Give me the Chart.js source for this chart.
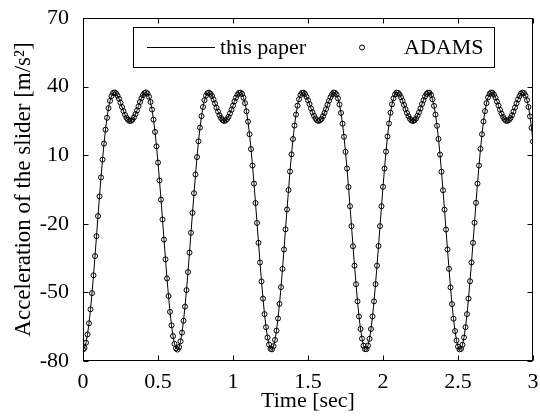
<!DOCTYPE html>
<html>
<head>
<meta charset="utf-8">
<script src="https://cdn.jsdelivr.net/npm/chart.js@4.4.1/dist/chart.umd.min.js"></script>
<style>
  body { margin: 0; background: #fff; }
  canvas { display: block; }
</style>
</head>
<body>
<canvas id="accelChart" width="540" height="416"></canvas>
<script>
// time samples [sec]
const timeSec = [
  0.00,0.01,0.02,0.03,0.04,0.05,0.06,0.07,0.08,0.09,0.10,0.11,0.12,0.13,0.14,0.15,0.16,0.17,0.18,0.19,
  0.20,0.21,0.22,0.23,0.24,0.25,0.26,0.27,0.28,0.29,0.30,0.31,0.32,0.33,0.34,0.35,0.36,0.37,0.38,0.39,
  0.40,0.41,0.42,0.43,0.44,0.45,0.46,0.47,0.48,0.49,0.50,0.51,0.52,0.53,0.54,0.55,0.56,0.57,0.58,0.59,
  0.60,0.61,0.62,0.63,0.64,0.65,0.66,0.67,0.68,0.69,0.70,0.71,0.72,0.73,0.74,0.75,0.76,0.77,0.78,0.79,
  0.80,0.81,0.82,0.83,0.84,0.85,0.86,0.87,0.88,0.89,0.90,0.91,0.92,0.93,0.94,0.95,0.96,0.97,0.98,0.99,
  1.00,1.01,1.02,1.03,1.04,1.05,1.06,1.07,1.08,1.09,1.10,1.11,1.12,1.13,1.14,1.15,1.16,1.17,1.18,1.19,
  1.20,1.21,1.22,1.23,1.24,1.25,1.26,1.27,1.28,1.29,1.30,1.31,1.32,1.33,1.34,1.35,1.36,1.37,1.38,1.39,
  1.40,1.41,1.42,1.43,1.44,1.45,1.46,1.47,1.48,1.49,1.50,1.51,1.52,1.53,1.54,1.55,1.56,1.57,1.58,1.59,
  1.60,1.61,1.62,1.63,1.64,1.65,1.66,1.67,1.68,1.69,1.70,1.71,1.72,1.73,1.74,1.75,1.76,1.77,1.78,1.79,
  1.80,1.81,1.82,1.83,1.84,1.85,1.86,1.87,1.88,1.89,1.90,1.91,1.92,1.93,1.94,1.95,1.96,1.97,1.98,1.99,
  2.00,2.01,2.02,2.03,2.04,2.05,2.06,2.07,2.08,2.09,2.10,2.11,2.12,2.13,2.14,2.15,2.16,2.17,2.18,2.19,
  2.20,2.21,2.22,2.23,2.24,2.25,2.26,2.27,2.28,2.29,2.30,2.31,2.32,2.33,2.34,2.35,2.36,2.37,2.38,2.39,
  2.40,2.41,2.42,2.43,2.44,2.45,2.46,2.47,2.48,2.49,2.50,2.51,2.52,2.53,2.54,2.55,2.56,2.57,2.58,2.59,
  2.60,2.61,2.62,2.63,2.64,2.65,2.66,2.67,2.68,2.69,2.70,2.71,2.72,2.73,2.74,2.75,2.76,2.77,2.78,2.79,
  2.80,2.81,2.82,2.83,2.84,2.85,2.86,2.87,2.88,2.89,2.90,2.91,2.92,2.93,2.94,2.95,2.96,2.97,2.98,2.99,
  3.00
];

// slider acceleration [m/s^2], "this paper"
const accelPaper = [
  -75.0,-74.3,-72.0,-68.4,-63.5,-57.4,-50.3,-42.5,-34.1,-25.4,-16.6,-8.0,0.3,8.1,15.1,21.2,26.4,30.6,33.8,35.9,
  37.2,37.5,37.1,36.1,34.7,33.0,31.1,29.3,27.7,26.4,25.5,25.0,25.1,25.6,26.6,28.0,29.6,31.4,33.3,35.0,
  36.3,37.2,37.5,37.0,35.6,33.3,30.0,25.6,20.2,13.9,6.8,-1.0,-9.4,-18.1,-26.9,-35.5,-43.9,-51.6,-58.5,-64.4,
  -69.1,-72.5,-74.5,
  -75.0,-73.9,-71.4,-67.6,-62.4,-56.2,-49.0,-41.1,-32.6,-23.9,-15.2,-6.6,1.6,9.2,16.1,22.1,27.1,31.1,34.1,36.1,
  37.2,37.4,36.9,35.9,34.4,32.7,30.8,29.1,27.5,26.3,25.4,25.0,25.2,25.8,26.8,28.3,29.9,31.7,33.6,35.2,
  36.5,37.3,37.4,36.8,35.2,32.8,29.2,24.7,19.2,12.7,5.5,-2.4,-10.9,-19.6,-28.3,-36.9,-45.2,-52.7,-59.5,-65.2,
  -69.7,-72.8,-74.7,
  -74.9,-73.5,-70.8,-66.7,-61.4,-55.0,-47.7,-39.7,-31.2,-22.4,-13.7,-5.2,2.9,10.4,17.1,23.0,27.8,31.7,34.5,36.4,
  37.3,37.4,36.8,35.6,34.1,32.4,30.5,28.8,27.3,26.1,25.3,25.0,25.3,25.9,27.1,28.5,30.2,32.1,33.8,35.4,
  36.6,37.4,37.3,36.6,34.9,32.2,28.5,23.8,18.1,11.5,4.2,-3.9,-12.3,-21.0,-29.8,-38.3,-46.4,-53.9,-60.5,-66.0,
  -70.2,-73.3,-74.8,
  -74.8,-73.2,-70.3,-66.0,-60.5,-53.9,-46.4,-38.3,-29.7,-21.0,-12.3,-3.8,4.2,11.6,18.2,23.9,28.6,32.3,34.9,36.6,
  37.4,37.3,36.6,35.4,33.8,32.0,30.2,28.5,27.1,25.9,25.2,25.0,25.3,26.1,27.3,28.8,30.5,32.4,34.1,35.7,
  36.8,37.4,37.3,36.4,34.5,31.6,27.8,22.9,17.1,10.3,2.8,-5.3,-13.8,-22.5,-31.2,-39.7,-47.8,-55.1,-61.5,-66.9,
  -71.0,-73.7,-74.9,
  -74.7,-72.9,-69.7,-65.2,-59.5,-52.7,-45.1,-36.9,-28.3,-19.5,-10.8,-2.4,5.5,12.8,19.2,24.8,29.3,32.8,35.3,36.8,
  37.4,37.3,36.5,35.2,33.5,31.7,29.9,28.2,26.8,25.8,25.1,25.1,25.4,26.3,27.5,29.1,30.9,32.7,34.4,35.9,
  37.0,37.4,37.2,36.1,34.1,31.1,27.0,22.0,16.0
];

// slider acceleration [m/s^2], ADAMS
const accelAdams = [
  -75.0,-74.3,-72.0,-68.4,-63.5,-57.4,-50.3,-42.5,-34.1,-25.4,-16.6,-8.0,0.3,8.1,15.1,21.2,26.4,30.6,33.8,35.9,
  37.2,37.5,37.1,36.1,34.7,33.0,31.1,29.3,27.7,26.4,25.5,25.0,25.1,25.6,26.6,28.0,29.6,31.4,33.3,35.0,
  36.3,37.2,37.5,37.0,35.6,33.3,30.0,25.6,20.2,13.9,6.8,-1.0,-9.4,-18.1,-26.9,-35.5,-43.9,-51.6,-58.5,-64.4,
  -69.1,-72.5,-74.5,
  -75.0,-73.9,-71.4,-67.6,-62.4,-56.2,-49.0,-41.1,-32.6,-23.9,-15.2,-6.6,1.6,9.2,16.1,22.1,27.1,31.1,34.1,36.1,
  37.2,37.4,36.9,35.9,34.4,32.7,30.8,29.1,27.5,26.3,25.4,25.0,25.2,25.8,26.8,28.3,29.9,31.7,33.6,35.2,
  36.5,37.3,37.4,36.8,35.2,32.8,29.2,24.7,19.2,12.7,5.5,-2.4,-10.9,-19.6,-28.3,-36.9,-45.2,-52.7,-59.5,-65.2,
  -69.7,-72.8,-74.7,
  -74.9,-73.5,-70.8,-66.7,-61.4,-55.0,-47.7,-39.7,-31.2,-22.4,-13.7,-5.2,2.9,10.4,17.1,23.0,27.8,31.7,34.5,36.4,
  37.3,37.4,36.8,35.6,34.1,32.4,30.5,28.8,27.3,26.1,25.3,25.0,25.3,25.9,27.1,28.5,30.2,32.1,33.8,35.4,
  36.6,37.4,37.3,36.6,34.9,32.2,28.5,23.8,18.1,11.5,4.2,-3.9,-12.3,-21.0,-29.8,-38.3,-46.4,-53.9,-60.5,-66.0,
  -70.2,-73.3,-74.8,
  -74.8,-73.2,-70.3,-66.0,-60.5,-53.9,-46.4,-38.3,-29.7,-21.0,-12.3,-3.8,4.2,11.6,18.2,23.9,28.6,32.3,34.9,36.6,
  37.4,37.3,36.6,35.4,33.8,32.0,30.2,28.5,27.1,25.9,25.2,25.0,25.3,26.1,27.3,28.8,30.5,32.4,34.1,35.7,
  36.8,37.4,37.3,36.4,34.5,31.6,27.8,22.9,17.1,10.3,2.8,-5.3,-13.8,-22.5,-31.2,-39.7,-47.8,-55.1,-61.5,-66.9,
  -71.0,-73.7,-74.9,
  -74.7,-72.9,-69.7,-65.2,-59.5,-52.7,-45.1,-36.9,-28.3,-19.5,-10.8,-2.4,5.5,12.8,19.2,24.8,29.3,32.8,35.3,36.8,
  37.4,37.3,36.5,35.2,33.5,31.7,29.9,28.2,26.8,25.8,25.1,25.1,25.4,26.3,27.5,29.1,30.9,32.7,34.4,35.9,
  37.0,37.4,37.2,36.1,34.1,31.1,27.0,22.0,16.0
];

const seriesLabels = ['this paper', 'ADAMS'];
const xTicks = [0, 0.5, 1, 1.5, 2, 2.5, 3];
const yTicks = [-80, -50, -20, 10, 40, 70];

const serif = 'Liberation Serif, Times New Roman, serif';
const font22 = { family: serif, size: 22, lineHeight: 1.1 };

// box around the axes, inward ticks, legend inside the plot
const axesBox = {
  id: 'axesBox',
  afterDraw(chart) {
    const { ctx, chartArea: a, scales: { x, y } } = chart;
    const L = Math.round(a.left) + 0.5, R = Math.round(a.right) - 0.5;
    const T = Math.round(a.top) + 0.5, B = Math.round(a.bottom) - 0.5;
    ctx.save();
    ctx.strokeStyle = '#000';
    ctx.lineWidth = 1;
    ctx.strokeRect(L, T, R - L, B - T);
    ctx.beginPath();
    xTicks.forEach(v => {
      const px = Math.round(x.getPixelForValue(v)) + 0.5;
      ctx.moveTo(px, B); ctx.lineTo(px, B - 5);
      ctx.moveTo(px, T); ctx.lineTo(px, T + 5);
    });
    yTicks.forEach(v => {
      const py = Math.round(y.getPixelForValue(v)) + 0.5;
      ctx.moveTo(L, py); ctx.lineTo(L + 5, py);
      ctx.moveTo(R, py); ctx.lineTo(R - 5, py);
    });
    ctx.stroke();

    // legend
    const ds = chart.data.datasets;
    const bx = 133.5, by = 27.5, bw = 361, bh = 40, cy = by + bh / 2;
    ctx.fillStyle = '#fff';
    ctx.fillRect(bx, by, bw, bh);
    ctx.strokeRect(bx, by, bw, bh);
    ctx.beginPath();
    ctx.moveTo(147, cy); ctx.lineTo(215, cy);
    ctx.stroke();
    ctx.beginPath();
    ctx.arc(362, cy, 2.5, 0, Math.PI * 2);
    ctx.stroke();
    ctx.fillStyle = '#000';
    ctx.font = '22px ' + serif;
    ctx.textBaseline = 'middle';
    ctx.fillText(ds[0].label, 220, cy + 1);
    ctx.fillText(ds[1].label, 404, cy + 1);
    ctx.restore();
  }
};

new Chart(document.getElementById('accelChart'), {
  type: 'line',
  data: {
    datasets: [
      {
        label: seriesLabels[0],
        data: timeSec.map((t, i) => ({ x: t, y: accelPaper[i] })),
        borderColor: '#000',
        borderWidth: 1,
        pointRadius: 0,
        tension: 0
      },
      {
        label: seriesLabels[1],
        data: timeSec.map((t, i) => ({ x: t, y: accelAdams[i] })),
        showLine: false,
        pointRadius: 2.5,
        pointBorderWidth: 1,
        pointBorderColor: '#000',
        pointBackgroundColor: 'rgba(0,0,0,0)'
      }
    ]
  },
  options: {
    responsive: false,
    animation: false,
    layout: { padding: { left: 0, top: 13, right: 7, bottom: 0 } },
    plugins: { legend: { display: false }, tooltip: { enabled: false } },
    scales: {
      x: {
        type: 'linear',
        min: 0, max: 3,
        afterBuildTicks: s => { s.ticks = xTicks.map(v => ({ value: v })); },
        ticks: { color: '#000', font: font22, padding: 1, maxRotation: 0, callback: v => String(v) },
        grid: { display: false },
        border: { display: false },
        title: { display: true, text: 'Time [sec]', color: '#000', font: font22, padding: { top: 0, bottom: 3 } },
        afterFit: s => { s.height = 55; }
      },
      y: {
        min: -80, max: 70,
        afterBuildTicks: s => { s.ticks = yTicks.map(v => ({ value: v })); },
        ticks: { color: '#000', font: font22, padding: 6, callback: v => String(v) },
        grid: { display: false },
        border: { display: false },
        title: { display: true, text: 'Acceleration of the slider [m/s²]', color: '#000', font: { family: serif, size: 23, lineHeight: 1.1 }, padding: { top: 11, bottom: 0 } },
        afterFit: s => { s.width = 83; }
      }
    }
  },
  plugins: [axesBox]
});
</script>
</body>
</html>
